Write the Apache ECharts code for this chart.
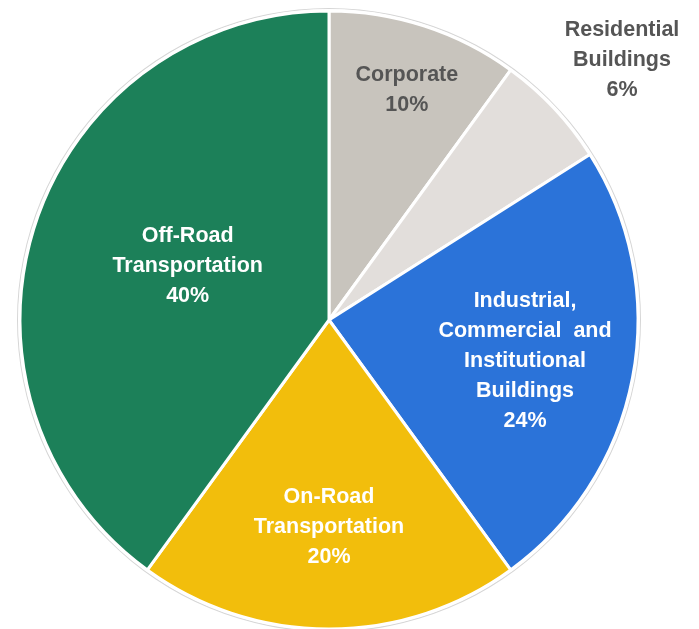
<!DOCTYPE html>
<html lang="en">
<head>
    <meta charset="UTF-8">
    <title>Emissions by sector</title>
    <script src="https://cdn.jsdelivr.net/npm/echarts@6/dist/echarts.min.js"></script>
    <style>
        html, body { margin: 0; padding: 0; background: #fff; }
    </style>
</head>
<body>
    <div id="main" style="width: 699px;height:629px;"></div>
    <script type="text/javascript">
        // data, clockwise from 12 o'clock
        var categories = [
            'Corporate',
            'Residential\nBuildings',
            'Industrial,\nCommercial  and\nInstitutional\nBuildings',
            'On-Road\nTransportation',
            'Off-Road\nTransportation'
        ];
        var shares = [10, 6, 24, 20, 40];

        // look
        var colors = ['#c8c4bd', '#e2dedb', '#2b73d9', '#f2be0c', '#1c8059'];
        var labelColors = ['#555555', '#555555', '#ffffff', '#ffffff', '#ffffff'];
        var labelRadius = [0.786, 1.268, 0.648, 0.67, 0.49]; // fraction of pie radius
        var labelTurn = [0.7, 1.6, 1.0, 0, 3]; // extra degrees clockwise
        var R = 309;
        var center = [329, 320];

        var total = shares.reduce(function (a, b) { return a + b; }, 0);
        var midAngle = [];
        var cum = 0;
        for (var i = 0; i < shares.length; i++) {
            midAngle.push((cum + shares[i] / 2) / total * Math.PI * 2);
            cum += shares[i];
        }

        var myChart = echarts.init(document.getElementById('main'));

        var option = {
            animation: false,
            series: [
                {
                    // faint outline round the pie
                    type: 'pie',
                    silent: true,
                    center: center,
                    radius: [R + 2, R + 3],
                    label: { show: false },
                    labelLine: { show: false },
                    itemStyle: { color: '#d6d6d6' },
                    data: [1]
                },
                {
                    type: 'pie',
                    center: center,
                    radius: R,
                    startAngle: 90,
                    clockwise: true,
                    itemStyle: { borderColor: '#ffffff', borderWidth: 3 },
                    label: {
                        show: true,
                        position: 'inside',
                        formatter: '{b}\n{d}%',
                        fontFamily: '"Liberation Sans", Arial, sans-serif',
                        fontWeight: 'bold',
                        fontSize: 21.5,
                        lineHeight: 30,
                        align: 'center'
                    },
                    labelLine: { show: false },
                    // push each label along its slice's middle ray
                    labelLayout: function (p) {
                        var i = p.dataIndex;
                        var a = midAngle[i] + labelTurn[i] * Math.PI / 180;
                        var k = labelRadius[i] * R;
                        return {
                            x: center[0] + k * Math.sin(a),
                            y: center[1] - k * Math.cos(a),
                            align: 'center',
                            verticalAlign: 'middle'
                        };
                    },
                    data: categories.map(function (name, i) {
                        return {
                            name: name,
                            value: shares[i],
                            itemStyle: { color: colors[i] },
                            label: { color: labelColors[i] }
                        };
                    })
                }
            ]
        };

        myChart.setOption(option);
    </script>
</body>
</html>
